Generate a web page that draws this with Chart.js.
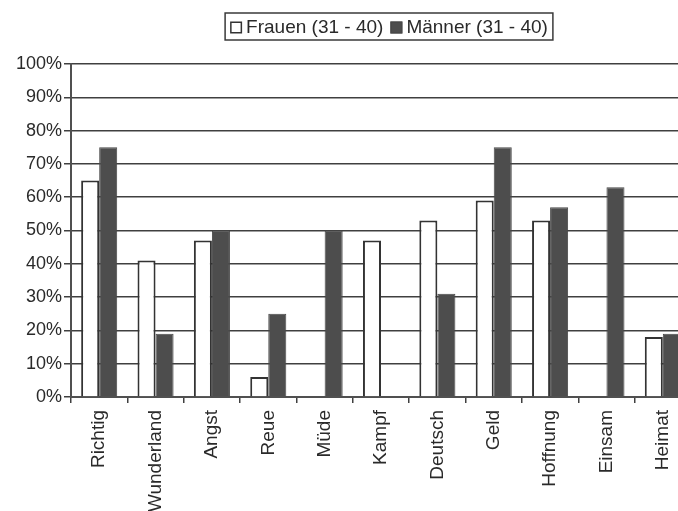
<!DOCTYPE html>
<html lang="de">
<head>
<meta charset="utf-8">
<title>Frauen und Männer (31 - 40)</title>
<script src="https://cdn.jsdelivr.net/npm/chart.js@4/dist/chart.umd.min.js"></script>
<style>
  html, body { margin: 0; padding: 0; background: #ffffff; overflow: hidden; }
  #wrap { width: 700px; height: 511px; }
</style>
</head>
<body>
<div id="wrap"><canvas id="chart" width="700" height="511"></canvas></div>
<script>
// Begriffe (x-Achse)
const categories = ['Richtig', 'Wunderland', 'Angst', 'Reue', 'Müde', 'Kampf',
                    'Deutsch', 'Geld', 'Hoffnung', 'Einsam', 'Heimat'];

// Anteile in Prozent; null = kein Balken
const frauen = [65, 41, 47, 6, null, 47, 53, 59, 53, null, 18];
const maenner = [75, 19, 50, 25, 50, null, 31, 75, 57, 63, 19];

const seriesLabels = ['Frauen (31 - 40)', 'Männer (31 - 40)'];

// y-Achse 0 % bis 100 % in Zehnerschritten
const yTicks = [0, 10, 20, 30, 40, 50, 60, 70, 80, 90, 100];

const FONT = '"Liberation Sans", Arial, Helvetica, sans-serif';
const INK = '#2a2a2a';
const GRID = '#404040';

Chart.defaults.font.family = FONT;
Chart.defaults.color = INK;

// Legende mit Rahmen über dem Diagramm
const boxedLegend = {
  id: 'boxedLegend',
  afterDraw(chart, args, opts) {
    const { ctx } = chart;
    ctx.save();
    ctx.font = opts.fontSize + 'px ' + FONT;
    const items = chart.data.datasets.map(ds => ({
      text: ds.label,
      w: ctx.measureText(ds.label).width,
      fill: ds.backgroundColor,
      stroke: ds.borderColor
    }));
    const box = 12, gapText = 4, gapItem = 7, pad = 5;
    let total = pad * 2 + gapItem * (items.length - 1);
    items.forEach(it => { total += box + gapText + it.w; });
    const left = opts.centerX - total / 2;
    const top = opts.top, h = opts.height;
    const midY = top + h / 2 + 1;

    ctx.strokeStyle = '#3a3a3a';
    ctx.lineWidth = 1.5;
    ctx.strokeRect(left, top, total, h);

    let x = left + pad;
    ctx.textBaseline = 'middle';
    ctx.textAlign = 'left';
    items.forEach(it => {
      ctx.fillStyle = it.fill;
      ctx.fillRect(x, midY - box / 2, box, box);
      ctx.strokeStyle = it.stroke;
      ctx.lineWidth = 1.5;
      ctx.strokeRect(x + 0.75, midY - box / 2 + 0.75, box - 1.5, box - 1.5);
      x += box + gapText;
      ctx.fillStyle = INK;
      ctx.fillText(it.text, x, midY);
      x += it.w + gapItem;
    });
    ctx.restore();
  }
};

new Chart(document.getElementById('chart'), {
  type: 'bar',
  data: {
    labels: categories,
    datasets: [
      {
        label: seriesLabels[0],
        data: frauen,
        backgroundColor: '#ffffff',
        borderColor: '#333333',
        borderWidth: 2
      },
      {
        label: seriesLabels[1],
        data: maenner,
        backgroundColor: '#4d4d4d',
        borderColor: '#484848',
        borderWidth: 1
      }
    ]
  },
  options: {
    responsive: false,
    animation: false,
    layout: { padding: { top: 64, right: 9, bottom: 0, left: 0 } },
    datasets: {
      bar: { categoryPercentage: 0.64, barPercentage: 1.0 }
    },
    scales: {
      x: {
        grid: {
          offset: true,
          drawOnChartArea: false,
          drawTicks: true,
          tickLength: 6,
          color: GRID,
          lineWidth: 1.5
        },
        border: { display: true, color: '#505050', width: 2 },
        ticks: {
          minRotation: 90,
          maxRotation: 90,
          autoSkip: false,
          padding: 7,
          font: { size: 19 },
          color: INK
        },
        afterFit(scale) { scale.height = 114; }
      },
      y: {
        min: yTicks[0],
        max: yTicks[yTicks.length - 1],
        afterBuildTicks(scale) { scale.ticks = yTicks.map(v => ({ value: v })); },
        grid: {
          color: GRID,
          lineWidth: 1.5,
          drawTicks: true,
          tickLength: 7
        },
        border: { display: true, color: '#505050', width: 2 },
        ticks: {
          padding: 2,
          font: { size: 18 },
          color: INK,
          callback: v => v + '%'
        },
        afterFit(scale) { scale.width = 71; }
      }
    },
    plugins: {
      legend: { display: false },
      tooltip: { enabled: false },
      boxedLegend: { centerX: 389, top: 13, height: 27, fontSize: 19 }
    }
  },
  plugins: [boxedLegend]
});
</script>
</body>
</html>
